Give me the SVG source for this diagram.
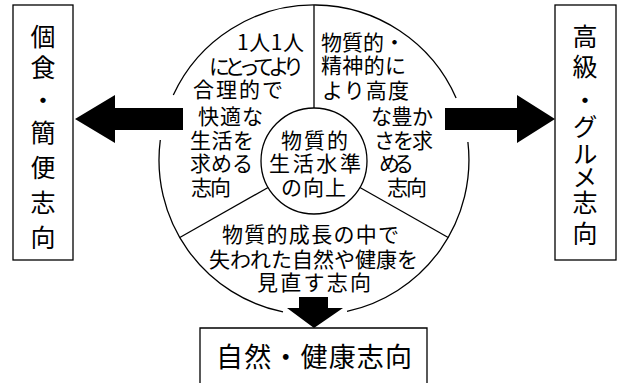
<svg xmlns="http://www.w3.org/2000/svg" width="617" height="383" viewBox="0 0 617 383">
<style>
.ln{fill:none;stroke:#000;stroke-width:1.3}
.t{font-family:"Noto Sans CJK JP","Noto Sans CJK SC",sans-serif;font-size:21px;fill:#000}
.b{font-family:"Noto Sans CJK JP","Noto Sans CJK SC",sans-serif;font-size:25px;fill:#000;text-anchor:middle;writing-mode:vertical-rl}
.bb{font-family:"Noto Sans CJK JP","Noto Sans CJK SC",sans-serif;font-size:27px;fill:#000}
.ar{fill:#000}
</style>
<rect width="617" height="383" fill="#fff"/>
<g id="wheel">
<path class="ln" d="M173.3,95 A155,155 0 0 1 456.1,98"/>
<path class="ln" d="M467.9,142 A155,155 0 0 1 347,311.4"/>
<path class="ln" d="M283,311.9 A155,155 0 0 1 160.3,140"/>
<line class="ln" x1="314" y1="5" x2="314" y2="108"/>
<line class="ln" x1="268.1" y1="187.5" x2="179.8" y2="237.5"/>
<line class="ln" x1="359.9" y1="187.5" x2="448.2" y2="237.5"/>
</g>
<g id="center">
<circle class="ln" cx="314" cy="161" r="53"/>
<text class="t"><tspan x="281" y="148" textLength="67" lengthAdjust="spacing">物質的</tspan><tspan x="269" y="171" textLength="92" lengthAdjust="spacing">生活水準</tspan><tspan x="281" y="195" textLength="65" lengthAdjust="spacing">の向上</tspan></text>
</g>
<g id="seg-left">
<text class="t"><tspan x="237" y="50" textLength="67" lengthAdjust="spacing">1人1人</tspan><tspan x="209" y="74" textLength="95" lengthAdjust="spacing">にとってより</tspan><tspan x="193" y="97" textLength="90" lengthAdjust="spacing">合理的で</tspan><tspan x="198" y="124" textLength="65" lengthAdjust="spacing">快適な</tspan><tspan x="190" y="148" textLength="64" lengthAdjust="spacing">生活を</tspan><tspan x="190" y="171" textLength="63" lengthAdjust="spacing">求める</tspan><tspan x="191" y="195" textLength="40" lengthAdjust="spacing">志向</tspan></text>
</g>
<g id="seg-right">
<text class="t"><tspan x="321" y="50" textLength="84" lengthAdjust="spacing">物質的・</tspan><tspan x="321" y="73" textLength="85" lengthAdjust="spacing">精神的に</tspan><tspan x="322" y="98" textLength="87" lengthAdjust="spacing">より高度</tspan><tspan x="371" y="124" textLength="62" lengthAdjust="spacing">な豊か</tspan><tspan x="374" y="148" textLength="59" lengthAdjust="spacing">さを求</tspan><tspan x="379" y="171" textLength="35" lengthAdjust="spacing">める</tspan><tspan x="387" y="195" textLength="40" lengthAdjust="spacing">志向</tspan></text>
</g>
<g id="seg-bottom">
<text class="t"><tspan x="222" y="242" textLength="177" lengthAdjust="spacing">物質的成長の中で</tspan><tspan x="209" y="267" textLength="209" lengthAdjust="spacing">失われた自然や健康を</tspan><tspan x="257" y="290" textLength="114" lengthAdjust="spacing">見直す志向</tspan></text>
</g>
<g id="box-left">
<rect class="ln" x="13" y="5" width="60" height="255"/>
<text class="b" x="43" y="36 67 100 132 167 202 237">個食・簡便志向</text>
</g>
<g id="box-right">
<rect class="ln" x="555" y="5" width="61" height="255"/>
<text class="b" x="585" y="36 66 100 126 153 177 202 233">高級・グルメ志向</text>
</g>
<g id="box-bottom">
<path class="ln" d="M200,383 V328 H427 V383"/>
<text class="bb" x="216" y="367" textLength="196" lengthAdjust="spacing">自然・健康志向</text>
</g>
<g id="connectors">
<polygon class="ar" points="183,108 115,108 115,95 75,119 115,143 115,130 183,130"/>
<polygon class="ar" points="445,108 517,108 517,95 555,119 517,143 517,130 445,130"/>
<polygon class="ar" points="299,297 328,297 328,308 343,308 314,328 287,308 299,308"/>
</g>
</svg>
